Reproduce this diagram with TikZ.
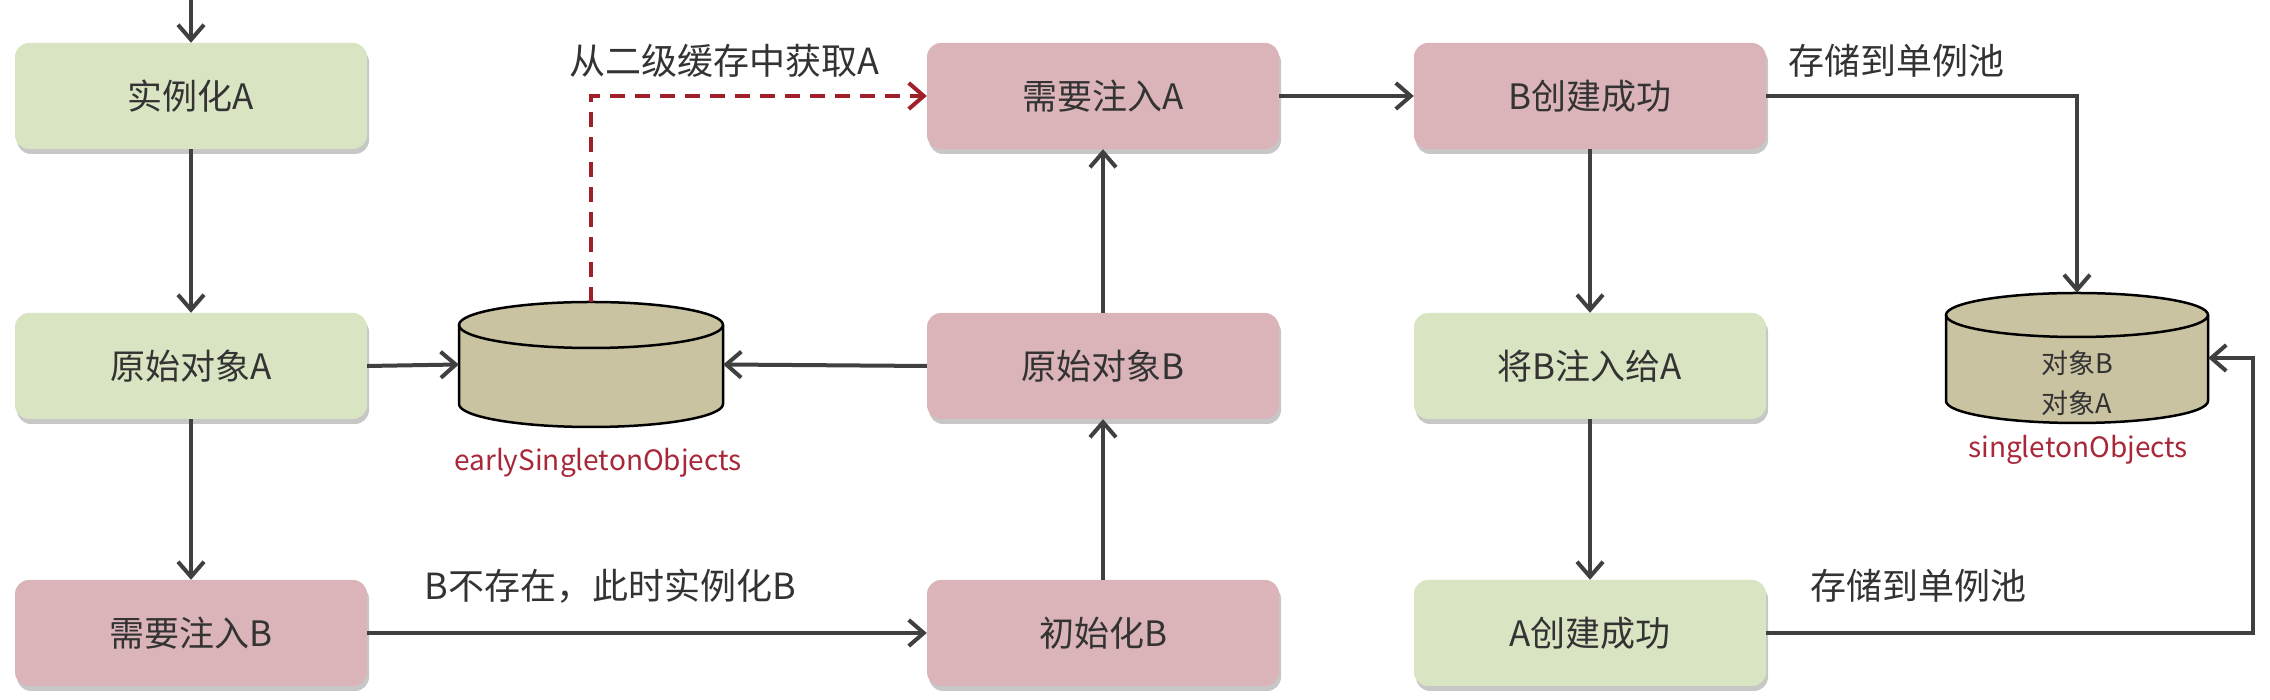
\documentclass[tikz,border=0pt]{standalone}
\usepackage{fontspec}
\setmainfont{Noto Sans CJK SC}
\usetikzlibrary{arrows.meta,shadows}
\definecolor{boxgreen}{HTML}{D9E4C2}
\definecolor{boxpink}{HTML}{DBB4BA}
\definecolor{cylfill}{HTML}{C9C3A2}
\definecolor{txtgray}{HTML}{333333}
\definecolor{linegray}{HTML}{404040}
\definecolor{labred}{HTML}{A8283A}
\definecolor{dashred}{HTML}{A0202A}
\tikzset{
  stepbox/.style={rectangle, rounded corners=14pt, minimum width=352pt, minimum height=106pt,
    text=txtgray, font=\fontsize{35}{40}\selectfont,
    drop shadow={shadow xshift=2pt, shadow yshift=-5pt, opacity=0.22, fill=black}},
  greenbox/.style={stepbox, fill=boxgreen},
  pinkbox/.style={stepbox, fill=boxpink},
  arr/.style={draw=linegray, line width=4pt, -{Straight Barb[length=15pt,width=26pt,line width=4pt]}},
  dasharr/.style={draw=dashred, line width=4pt, dash pattern=on 15pt off 10pt,
    -{Straight Barb[length=15pt,width=26pt,line width=4pt]}},
  lbl/.style={text=txtgray, font=\fontsize{36}{40}\selectfont},
  dblbl/.style={text=labred, font=\fontsize{28}{32}\selectfont},
  cylnode/.style={rectangle, inner sep=0pt},
}
\begin{document}
\begin{tikzpicture}[x=1pt,y=1pt]
\useasboundingbox (0,0) rectangle (2270,700);
\fill[white] (0,0) rectangle (2270,700);

% boxes
\node[greenbox] (instA) at (191,604) {实例化A};
\node[greenbox] (rawA)  at (191,334) {原始对象A};
\node[pinkbox]  (needB) at (191,67)  {需要注入B};

\node[pinkbox]  (needA) at (1103,604) {需要注入A};
\node[pinkbox]  (rawB)  at (1103,334) {原始对象B};
\node[pinkbox]  (initB) at (1103,67)  {初始化B};

\node[pinkbox]  (Bok)   at (1590,604) {B创建成功};
\node[greenbox] (injBA) at (1590,334) {将B注入给A};
\node[greenbox] (Aok)   at (1590,67)  {A创建成功};

% early cylinder
\fill[cylfill] (459,375) -- (459,296) arc[start angle=180,end angle=360,x radius=132,y radius=23]
  -- (723,375) arc[start angle=0,end angle=180,x radius=132,y radius=23] -- cycle;
\draw[line width=2.5pt] (459,375) -- (459,296) arc[start angle=180,end angle=360,x radius=132,y radius=23] -- (723,375);
\draw[line width=2.5pt] (591,375) ellipse[x radius=132,y radius=23];
\node[cylnode, minimum width=264pt, minimum height=125pt] (early) at (591,335.5) {};
\node[dblbl] (earlylbl) at (598,237) {earlySingletonObjects};

% singleton cylinder
\fill[cylfill] (1946,385) -- (1946,299) arc[start angle=180,end angle=360,x radius=131,y radius=22]
  -- (2208,385) arc[start angle=0,end angle=180,x radius=131,y radius=22] -- cycle;
\draw[line width=2.5pt] (1946,385) -- (1946,299) arc[start angle=180,end angle=360,x radius=131,y radius=22] -- (2208,385);
\draw[line width=2.5pt] (2077,385) ellipse[x radius=131,y radius=22];
\node[cylnode, minimum width=262pt, minimum height=130pt] (single) at (2077,342) {};
\node[text=txtgray, font=\fontsize{27}{40}\selectfont, align=center] (singletxt) at (2077,317) {对象B\\对象A};
\node[dblbl] (singlelbl) at (2078,250) {singletonObjects};

% labels
\node[lbl] (l1) at (724,639) {从二级缓存中获取A};
\node[lbl] (l2) at (610,114) {B不存在，此时实例化B};
\node[lbl] (l3) at (1896,639) {存储到单例池};
\node[lbl] (l4) at (1918,114) {存储到单例池};

% connectors
\coordinate (topin) at (191,700);
\coordinate (rloop) at (2253,67);
\draw[arr] (topin) -- (instA.north);
\draw[arr] (instA.south) -- (rawA.north);
\draw[arr] (rawA.south) -- (needB.north);
\draw[arr] (rawA.east) -- (early.west);
\draw[arr] (needB.east) -- (initB.west);
\draw[arr] (initB.north) -- (rawB.south);
\draw[arr] (rawB.north) -- (needA.south);
\draw[arr] (rawB.west) -- (early.east);
\draw[dasharr] (early.north) |- (needA.west);
\draw[arr] (needA.east) -- (Bok.west);
\draw[arr] (Bok.south) -- (injBA.north);
\draw[arr] (injBA.south) -- (Aok.north);
\draw[arr] (Bok.east) -| (single.north);
\draw[arr] (Aok.east) -- (rloop) |- (single.east);
\end{tikzpicture}
\end{document}
